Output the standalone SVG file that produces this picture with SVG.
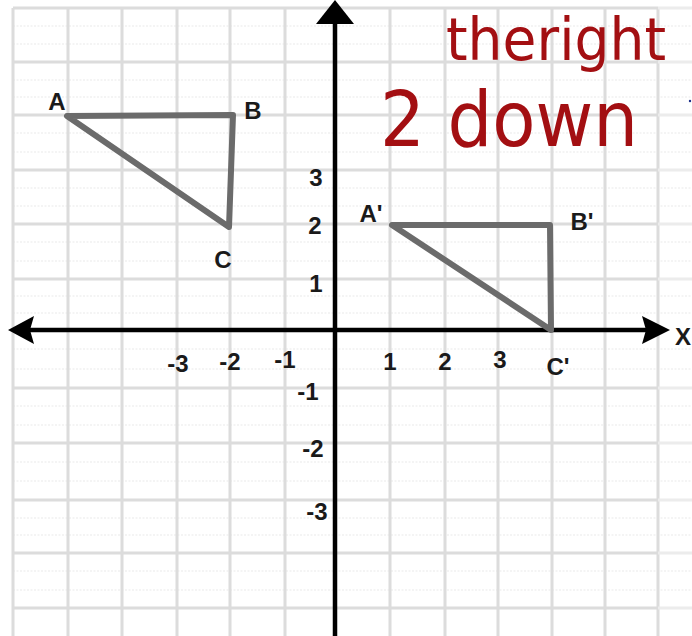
<svg xmlns="http://www.w3.org/2000/svg" width="692" height="636" viewBox="0 0 692 636">
<defs>
<style>
.grid line{stroke:#dcdcdc;stroke-width:3}
.gridx line{stroke:#ececec;stroke-width:3}
.minor line{stroke:#f1f1f1;stroke-width:1.5;stroke-dasharray:2 1.5}
.axis{stroke:#000;stroke-width:4.5;fill:none}
.head{fill:#000}
.tri{fill:none;stroke:#6b6b6b;stroke-width:6;stroke-linejoin:round}
.lbl{font-family:"Liberation Sans",Arial,sans-serif;font-weight:bold;font-size:24px;fill:#1a1a1a;text-anchor:middle}
.num{font-family:"Liberation Sans",Arial,sans-serif;font-weight:bold;font-size:24px;fill:#1a1a1a;text-anchor:middle}
.hand{font-family:"DejaVu Sans","Noto Sans",sans-serif;fill:#a30f12}
</style>
</defs>
<rect width="692" height="636" fill="#fff"/>
<g id="minor-grid" class="minor">
<line x1="13" y1="26" x2="692" y2="26"/><line x1="13" y1="44" x2="692" y2="44"/>
<line x1="13" y1="80" x2="692" y2="80"/><line x1="13" y1="97" x2="692" y2="97"/>
<line x1="13" y1="133" x2="692" y2="133"/><line x1="13" y1="152" x2="692" y2="152"/>
<line x1="13" y1="188" x2="692" y2="188"/><line x1="13" y1="206" x2="692" y2="206"/>
<line x1="13" y1="242" x2="692" y2="242"/><line x1="13" y1="261" x2="692" y2="261"/>
<line x1="13" y1="296" x2="692" y2="296"/><line x1="13" y1="313" x2="692" y2="313"/>
<line x1="13" y1="349" x2="692" y2="349"/><line x1="13" y1="369" x2="692" y2="369"/>
<line x1="13" y1="406" x2="692" y2="406"/><line x1="13" y1="425" x2="692" y2="425"/>
<line x1="13" y1="462" x2="692" y2="462"/><line x1="13" y1="481" x2="692" y2="481"/>
<line x1="13" y1="518" x2="692" y2="518"/><line x1="13" y1="535" x2="692" y2="535"/>
<line x1="13" y1="571" x2="692" y2="571"/><line x1="13" y1="590" x2="692" y2="590"/>
</g>
<g id="grid" class="grid">
<line x1="13" y1="8" x2="13" y2="636"/>
<line x1="68" y1="8" x2="68" y2="636"/>
<line x1="122" y1="8" x2="122" y2="636"/>
<line x1="177" y1="8" x2="177" y2="636"/>
<line x1="230" y1="8" x2="230" y2="636"/>
<line x1="285" y1="8" x2="285" y2="636"/>
<line x1="390" y1="8" x2="390" y2="636"/>
<line x1="445" y1="8" x2="445" y2="636"/>
<line x1="498" y1="8" x2="498" y2="636"/>
<line x1="552" y1="8" x2="552" y2="636"/>
<line x1="605" y1="8" x2="605" y2="636"/>
<line x1="658" y1="8" x2="658" y2="636"/>
<line x1="13" y1="8" x2="658" y2="8"/>
<line x1="13" y1="62" x2="658" y2="62"/>
<line x1="13" y1="115" x2="658" y2="115"/>
<line x1="13" y1="170" x2="658" y2="170"/>
<line x1="13" y1="224" x2="658" y2="224"/>
<line x1="13" y1="279" x2="658" y2="279"/>
<line x1="13" y1="388" x2="658" y2="388"/>
<line x1="13" y1="443" x2="658" y2="443"/>
<line x1="13" y1="500" x2="658" y2="500"/>
<line x1="13" y1="553" x2="658" y2="553"/>
<line x1="13" y1="608" x2="658" y2="608"/>
</g>
<g id="grid-fade" class="gridx">
<line x1="658" y1="8" x2="692" y2="8"/>
<line x1="658" y1="62" x2="692" y2="62"/>
<line x1="658" y1="115" x2="692" y2="115"/>
<line x1="658" y1="170" x2="692" y2="170"/>
<line x1="658" y1="224" x2="692" y2="224"/>
<line x1="658" y1="279" x2="692" y2="279"/>
<line x1="658" y1="388" x2="692" y2="388"/>
<line x1="658" y1="443" x2="692" y2="443"/>
<line x1="658" y1="500" x2="692" y2="500"/>
<line x1="658" y1="553" x2="692" y2="553"/>
<line x1="658" y1="608" x2="692" y2="608"/>
</g>
<g id="axes">
<line class="axis" x1="28" y1="330" x2="648" y2="330"/>
<polygon class="head" points="8,330 34,316 30,330 34,344"/>
<polygon class="head" points="670,330 642,316 646,330 642,344"/>
<line class="axis" x1="335" y1="20" x2="335" y2="636"/>
<polygon class="head" points="335,0 354,24 316,24"/>
</g>
<g id="axis-labels">
<text class="num" x="316" y="186">3</text>
<text class="num" x="315" y="234">2</text>
<text class="num" x="316" y="292">1</text>
<text class="num" x="308" y="400">-1</text>
<text class="num" x="313" y="457">-2</text>
<text class="num" x="317" y="520">-3</text>
<text class="num" x="178" y="372">-3</text>
<text class="num" x="230" y="370">-2</text>
<text class="num" x="285" y="368">-1</text>
<text class="num" x="390" y="370">1</text>
<text class="num" x="445" y="370">2</text>
<text class="num" x="500" y="368">3</text>
<text class="lbl" x="675" y="345" style="text-anchor:start">X</text>
</g>
<g id="triangle-ABC">
<polygon class="tri" points="67,116 233,115 229,227"/>
<text class="lbl" x="57" y="110">A</text>
<text class="lbl" x="253" y="119">B</text>
<text class="lbl" x="223" y="268">C</text>
</g>
<g id="triangle-A1B1C1">
<polygon class="tri" points="392,225 550,225 551,330"/>
<text class="lbl" x="371" y="222">A'</text>
<text class="lbl" x="582" y="230">B'</text>
<text class="lbl" x="558" y="375">C'</text>
</g>
<g id="annotation">
<text class="hand" x="446" y="60" font-size="58" textLength="220" lengthAdjust="spacingAndGlyphs">theright</text>
<text class="hand" x="380" y="146" font-size="76" textLength="258" lengthAdjust="spacingAndGlyphs">2 down</text>
<circle cx="690" cy="101" r="1.2" fill="#1c2f8a"/>
</g>
</svg>
